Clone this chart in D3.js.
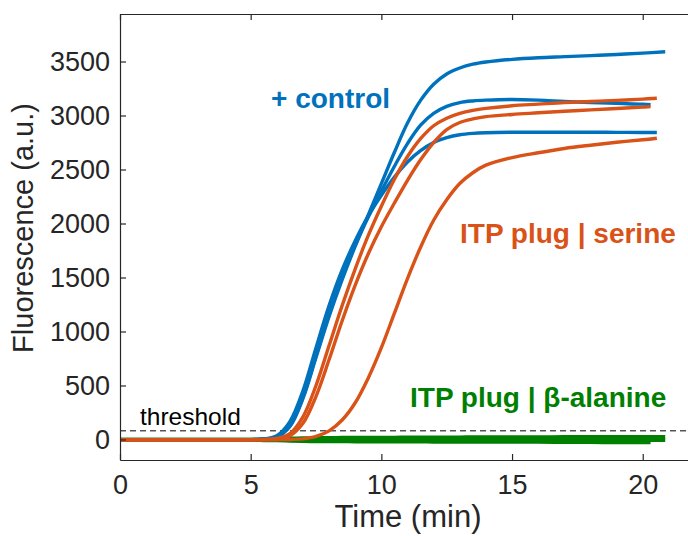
<!DOCTYPE html>
<html>
<head>
<meta charset="utf-8">
<script src="https://cdn.jsdelivr.net/npm/d3@7"></script>
<style>
  html, body { margin: 0; padding: 0; background: #ffffff; }
  svg { display: block; font-family: "Liberation Sans", Arial, Helvetica, sans-serif; }
</style>
</head>
<body>
<svg id="chart" width="688" height="536"></svg>
<script>
// ---- data ----
const time = [0,1,2,3,4,5,5.5,6,6.5,7,7.5,8,8.5,9,9.5,10,10.5,11,11.5,12,12.5,13,13.5,14,15,16,17,18,19,20];

// + control (blue)
const control1 = [-4,-4,-4,-4,-3,-2,3,25,120,380,760,1140,1480,1790,2080,2370,2660,2930,3140,3290,3385,3440,3475,3495,3520,3535,3545,3555,3565,3578];
const control2 = [-4,-4,-4,-4,-3,-2,3,20,125,390,780,1170,1510,1800,2060,2300,2530,2740,2910,3020,3085,3120,3135,3142,3148,3142,3130,3120,3112,3105];
const control3 = [-4,-4,-4,-4,-3,-2,5,35,165,450,850,1240,1570,1840,2070,2260,2430,2570,2675,2750,2795,2822,2835,2841,2845,2845,2845,2845,2844,2843];
// ITP plug | serine (orange)
const serine1 = [-3,-3,-3,-3,-3,-2,0,10,55,210,500,870,1240,1580,1890,2160,2410,2620,2785,2905,2975,3020,3048,3066,3090,3105,3120,3130,3140,3152];
const serine2 = [-3,-3,-3,-3,-3,-2,-1,5,35,150,400,740,1100,1430,1720,1970,2190,2400,2590,2750,2870,2935,2968,2990,3010,3025,3040,3052,3065,3078];
const serine3 = [-3,-3,-3,-3,-3,-3,-3,-2,0,6,28,80,180,340,570,850,1170,1490,1780,2030,2220,2370,2470,2540,2610,2655,2695,2725,2752,2775];
// ITP plug | beta-alanine (green)
const alanine1 = [-3,-3,-3,-3,-3,-2,0,4,8,11,13,14,15,16,16,17,17,18,18,19,19,19,20,20,21,21,22,22,23,23];
const alanine2 = [-3,-3,-3,-3,-3,-3,-3,-3,-3,-3,-3,-3,-3,-3,-3,-4,-4,-4,-4,-4,-4,-4,-4,-4,-4,-5,-5,-5,-5,-5];
const alanine3 = [-4,-4,-4,-4,-4,-5,-6,-8,-11,-14,-16,-17,-17,-18,-18,-18,-19,-19,-19,-20,-20,-20,-21,-21,-22,-22,-23,-24,-25,-26];

// last sample of each trace: [time, value]
const endC1 = [20.86, 3590], endC2 = [20.3, 3100], endC3 = [20.54, 2842];
const endS1 = [20.54, 3160], endS2 = [20.3, 3082], endS3 = [20.54, 2790];
const endA1 = [20.86, 23], endA2 = [20.86, -5], endA3 = [20.3, -26];

const thresholdValue = 80;
const xTicks = [0,5,10,15,20];
const yTicks = [0,500,1000,1500,2000,2500,3000,3500];

const labels = {
  control: "+ control",
  serine: "ITP plug | serine",
  alanine: "ITP plug | \u03B2-alanine",
  threshold: "threshold",
  xTitle: "Time (min)",
  yTitle: "Fluorescence (a.u.)"
};

// ---- drawing ----
const svg = d3.select("#chart");
const mLeft = 120, mRight = 695, mTop = 14, mBottom = 460;
const x = d3.scaleLinear().domain([0, 22]).range([mLeft, mRight]);
const y = d3.scaleLinear().domain([-190, 3940]).range([mBottom, mTop]);

const axisColor = "#262626";
const blue = "#0072BD", orange = "#D95319", green = "#008000";

function pts(vals, end) {
  const p = time.map((t, i) => [t, vals[i]]);
  p.push(end);
  return p;
}
const line = d3.line().x(d => x(d[0])).y(d => y(d[1])).curve(d3.curveCatmullRom.alpha(0.5));

const series = [
  {v: alanine1, e: endA1, c: green, w: 4},
  {v: alanine2, e: endA2, c: green, w: 4},
  {v: alanine3, e: endA3, c: green, w: 4},
  {v: control1, e: endC1, c: blue, w: 3.4},
  {v: control2, e: endC2, c: blue, w: 3.4},
  {v: control3, e: endC3, c: blue, w: 3.4},
  {v: serine1, e: endS1, c: orange, w: 3.4},
  {v: serine2, e: endS2, c: orange, w: 3.4},
  {v: serine3, e: endS3, c: orange, w: 3.4}
];

svg.append("defs").append("clipPath").attr("id", "plotclip")
  .append("rect").attr("x", mLeft).attr("y", mTop).attr("width", mRight - mLeft).attr("height", mBottom - mTop);

const plot = svg.append("g").attr("clip-path", "url(#plotclip)");

// threshold
plot.append("line")
  .attr("x1", mLeft).attr("x2", mRight)
  .attr("y1", y(thresholdValue)).attr("y2", y(thresholdValue))
  .attr("stroke", "#000").attr("stroke-width", 1).attr("stroke-dasharray", "6,4");

series.forEach(s => {
  plot.append("path")
    .attr("d", line(pts(s.v, s.e)))
    .attr("fill", "none")
    .attr("stroke", s.c)
    .attr("stroke-width", s.w)
    .attr("stroke-linejoin", "round");
});

// axes
const fmt = d3.format("d");
const xAxis = svg.append("g").attr("transform", `translate(0,${mBottom})`)
  .call(d3.axisBottom(x).tickValues(xTicks).tickFormat(fmt).tickSizeInner(-6).tickSizeOuter(0).tickPadding(15));
const xTop = svg.append("g").attr("transform", `translate(0,${mTop})`)
  .call(d3.axisTop(x).tickValues(xTicks).tickFormat("").tickSizeInner(-6).tickSizeOuter(0));
const yAxis = svg.append("g").attr("transform", `translate(${mLeft},0)`)
  .call(d3.axisLeft(y).tickValues(yTicks).tickFormat(fmt).tickSizeInner(-6).tickSizeOuter(0).tickPadding(10));

[xAxis, xTop, yAxis].forEach(g => {
  g.selectAll("path.domain").attr("stroke", axisColor).attr("stroke-width", 1.2);
  g.selectAll(".tick line").attr("stroke", axisColor).attr("stroke-width", 1.2);
  g.selectAll(".tick text").attr("fill", axisColor).style("font-size", "27px")
    .style("font-family", "'Liberation Sans', Arial, Helvetica, sans-serif");
});

// axis titles
svg.append("text")
  .attr("x", 408).attr("y", 527)
  .attr("text-anchor", "middle")
  .attr("fill", axisColor)
  .style("font-size", "31px")
  .text(labels.xTitle);

svg.append("text")
  .attr("transform", "translate(33,228) rotate(-90)")
  .attr("text-anchor", "middle")
  .attr("fill", axisColor)
  .style("font-size", "29px")
  .text(labels.yTitle);

// annotations
svg.append("text").attr("x", 140).attr("y", 425)
  .attr("fill", "#000").style("font-size", "24.5px").text(labels.threshold);
svg.append("text").attr("x", 271).attr("y", 108)
  .attr("fill", blue).style("font-size", "28px").style("font-weight", "bold").text(labels.control);
svg.append("text").attr("x", 460).attr("y", 243)
  .attr("fill", orange).style("font-size", "28px").style("font-weight", "bold").text(labels.serine);
svg.append("text").attr("x", 410).attr("y", 407)
  .attr("fill", green).style("font-size", "28px").style("font-weight", "bold").text(labels.alanine);
</script>
</body>
</html>
